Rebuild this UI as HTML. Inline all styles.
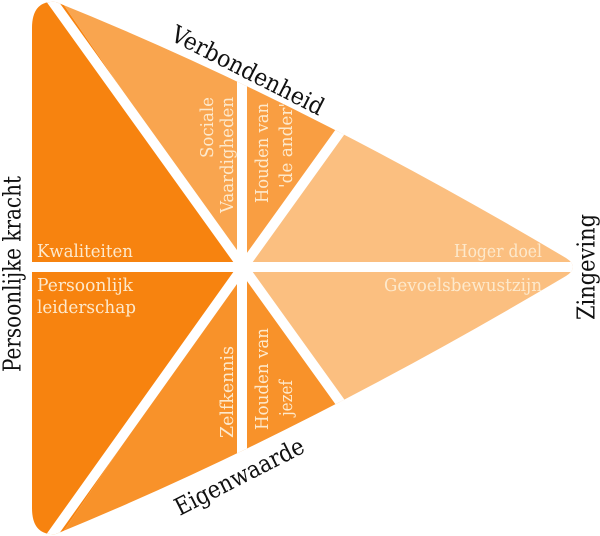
<!DOCTYPE html>
<html><head><meta charset="utf-8"><style>html,body{margin:0;padding:0;background:#fff;overflow:hidden;width:600px;height:536px}svg{display:block}</style></head>
<body>
<svg width="600" height="536" viewBox="0 0 600 536" xmlns="http://www.w3.org/2000/svg">
<defs>
<clipPath id="tri"><path d="M32,28 Q32,0 56,2 Q300,100 566,258 Q580,267 566,276 Q300,434 56,534 Q32,536 32,508 Z"/></clipPath>
</defs>
<g clip-path="url(#tri)">
<polygon points="243,267 40,-30 0,-30 0,566 40,566" fill="#f7830f"/>
<polygon points="243,267 40,-30 243,-30" fill="#f9a54f"/>
<polygon points="243,267 243,-30 437,-3" fill="#f99e42"/>
<polygon points="243,267 437,-3 700,-3 700,540 437,537" fill="#fbbf80"/>
<polygon points="243,267 437,537 243,566" fill="#f8922a"/>
<polygon points="243,267 243,566 40,566" fill="#f8922a"/>
<g stroke="#fff" stroke-width="10">
<line x1="0" y1="267" x2="620" y2="267"/>
<line x1="243" y1="267" x2="37" y2="-20"/>
<line x1="243" y1="267" x2="37" y2="556"/>
<line x1="242" y1="267" x2="242" y2="-10"/>
<line x1="242" y1="267" x2="242" y2="546"/>
<line x1="243" y1="267" x2="437" y2="-3"/>
<line x1="243" y1="267" x2="437" y2="537"/>
</g>
</g>
<g font-family="'DejaVu Serif','Liberation Serif',serif" font-size="18" fill="#fde9cc">
<text x="37" y="257" textLength="96" lengthAdjust="spacingAndGlyphs">Kwaliteiten</text>
<text x="37" y="291" textLength="96" lengthAdjust="spacingAndGlyphs">Persoonlijk</text>
<text x="37" y="313" textLength="99" lengthAdjust="spacingAndGlyphs">leiderschap</text>
<text x="542" y="257" text-anchor="end" textLength="88" lengthAdjust="spacingAndGlyphs">Hoger doel</text>
<text x="542" y="291" text-anchor="end" textLength="158" lengthAdjust="spacingAndGlyphs">Gevoelsbewustzijn</text>
<text transform="translate(213,97) rotate(-90)" text-anchor="end" textLength="61" lengthAdjust="spacingAndGlyphs">Sociale</text>
<text transform="translate(233,97) rotate(-90)" text-anchor="end" textLength="116" lengthAdjust="spacingAndGlyphs">Vaardigheden</text>
<text transform="translate(268,103) rotate(-90)" text-anchor="end" textLength="100" lengthAdjust="spacingAndGlyphs">Houden van</text>
<text transform="translate(292,103) rotate(-90)" text-anchor="end" textLength="85" lengthAdjust="spacingAndGlyphs">'de ander'</text>
<text transform="translate(233,438) rotate(-90)" textLength="92" lengthAdjust="spacingAndGlyphs">Zelfkennis</text>
<text transform="translate(268,430) rotate(-90)" textLength="102" lengthAdjust="spacingAndGlyphs">Houden van</text>
<text transform="translate(292,416) rotate(-90)" textLength="36" lengthAdjust="spacingAndGlyphs">jezef</text>
</g>
<g font-family="'DejaVu Serif','Liberation Serif',serif" font-size="24" fill="#111">
<text transform="translate(247,72) rotate(27)" text-anchor="middle" dominant-baseline="middle" textLength="168" lengthAdjust="spacingAndGlyphs">Verbondenheid</text>
<text transform="translate(240,478) rotate(-27)" text-anchor="middle" dominant-baseline="middle" textLength="142" lengthAdjust="spacingAndGlyphs">Eigenwaarde</text>
<text transform="translate(14,274) rotate(-90)" text-anchor="middle" dominant-baseline="middle" textLength="196" lengthAdjust="spacingAndGlyphs">Persoonlijke kracht</text>
<text transform="translate(588,267) rotate(-90)" text-anchor="middle" dominant-baseline="middle" textLength="106" lengthAdjust="spacingAndGlyphs">Zingeving</text>
</g>
</svg>
</body></html>
